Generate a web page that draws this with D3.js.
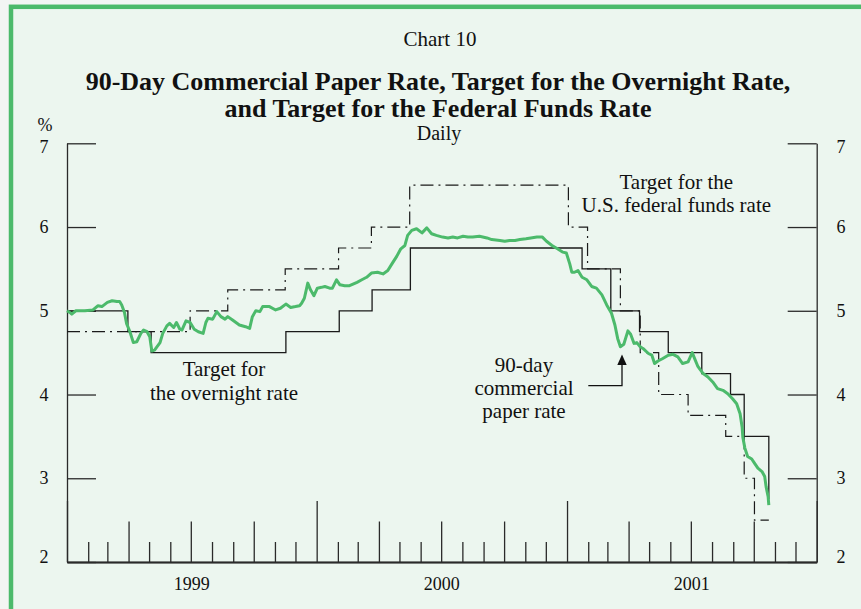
<!DOCTYPE html>
<html>
<head>
<meta charset="utf-8">
<script src="https://cdn.jsdelivr.net/npm/d3@7/dist/d3.min.js"></script>
<style>
  html, body { margin: 0; padding: 0; background: #f3f5f3; }
  svg { display: block; }
  text { font-family: "Liberation Serif", "Times New Roman", serif; fill: #111; }
</style>
</head>
<body>
<svg id="chart" width="861" height="609"></svg>
<script>
// ---------------- DATA ----------------
const yTicks = [2, 3, 4, 5, 6, 7];
const yearLabels = ["1999", "2000", "2001"];

// Target for the overnight rate (Bank of Canada) - change dates and levels
const overnightDates = ["1999-01-01","1999-03-31","1999-05-04","1999-11-17","2000-02-03","2000-03-22","2000-05-17",
  "2001-01-23","2001-03-06","2001-04-17","2001-05-29","2001-07-17","2001-08-28","2001-09-17","2001-10-23"];
const overnightValues = [5.00,4.75,4.50,4.75,5.00,5.25,5.75,5.50,5.00,4.75,4.50,4.25,4.00,3.50,2.75];

// Target for the U.S. federal funds rate - change dates and levels
const fedDates = ["1999-01-01","1999-06-30","1999-08-24","1999-11-16","2000-02-02","2000-03-21","2000-05-16",
  "2001-01-03","2001-01-31","2001-03-20","2001-04-18","2001-05-15","2001-06-27","2001-08-21","2001-09-17","2001-10-02","2001-10-23"];
const fedValues = [4.75,5.00,5.25,5.50,5.75,6.00,6.50,6.00,5.50,5.00,4.50,4.00,3.75,3.50,3.00,2.50,2.50];

// 90-day commercial paper rate
const cpDates = [
  "1999-01-01","1999-01-05","1999-01-08","1999-01-14","1999-01-27","1999-02-08","1999-02-15","1999-02-21",
  "1999-03-01","1999-03-08","1999-03-15","1999-03-19","1999-03-22","1999-03-26","1999-03-29","1999-04-03",
  "1999-04-08","1999-04-13","1999-04-19","1999-04-23","1999-04-28","1999-05-02","1999-05-05","1999-05-09",
  "1999-05-17","1999-05-21","1999-05-27","1999-05-31","1999-06-06","1999-06-10","1999-06-15","1999-06-18",
  "1999-06-24","1999-06-30","1999-07-06","1999-07-12","1999-07-19","1999-07-23","1999-07-26","1999-08-02",
  "1999-08-08","1999-08-14","1999-08-20","1999-08-24","1999-08-31","1999-09-10","1999-09-19","1999-09-25",
  "1999-09-29","1999-10-04","1999-10-10","1999-10-14","1999-10-24","1999-11-02","1999-11-09","1999-11-17",
  "1999-11-24","1999-12-01","1999-12-07","1999-12-10","1999-12-14","1999-12-19","1999-12-23","1999-12-28",
  "2000-01-02","2000-01-08","2000-01-13","2000-01-20","2000-01-24","2000-01-30","2000-02-04","2000-02-11",
  "2000-02-18","2000-02-29","2000-03-07","2000-03-14","2000-03-21","2000-03-30","2000-04-07","2000-04-14",
  "2000-04-20","2000-04-27","2000-05-03","2000-05-09","2000-05-13","2000-05-19","2000-05-26","2000-06-03",
  "2000-06-10","2000-06-17","2000-06-24","2000-07-03","2000-07-11","2000-07-18","2000-07-25","2000-08-02",
  "2000-08-09","2000-08-16","2000-08-26","2000-09-06","2000-09-13","2000-09-25","2000-10-02","2000-10-09",
  "2000-10-17","2000-10-24","2000-11-02","2000-11-09","2000-11-18","2000-11-26","2000-12-02","2000-12-10",
  "2000-12-18","2000-12-26","2000-12-31","2001-01-05","2001-01-08","2001-01-12","2001-01-17","2001-01-23",
  "2001-01-30","2001-02-06","2001-02-13","2001-02-21","2001-02-28","2001-03-07","2001-03-12","2001-03-16",
  "2001-03-20","2001-03-25","2001-03-31","2001-04-04","2001-04-09","2001-04-13","2001-04-18","2001-04-22",
  "2001-04-30","2001-05-05","2001-05-09","2001-05-14","2001-05-21","2001-05-29","2001-06-05","2001-06-12",
  "2001-06-19","2001-06-27","2001-07-03","2001-07-07","2001-07-11","2001-07-19","2001-07-26","2001-08-02",
  "2001-08-09","2001-08-17","2001-08-24","2001-08-31","2001-09-06","2001-09-11","2001-09-14","2001-09-15",
  "2001-09-18","2001-09-22","2001-09-28","2001-10-02","2001-10-07","2001-10-13","2001-10-17","2001-10-19",
  "2001-10-22","2001-10-23"];
const cpValues = [
  5.00,4.98,4.96,5.00,5.00,5.01,5.06,5.05,
  5.10,5.12,5.11,5.11,5.07,4.98,4.85,4.75,
  4.62,4.63,4.73,4.77,4.75,4.69,4.52,4.53,
  4.62,4.73,4.82,4.85,4.80,4.86,4.78,4.77,
  4.88,4.86,4.78,4.75,4.73,4.86,4.91,4.90,
  4.99,4.93,4.90,4.93,4.89,4.83,4.81,4.79,
  4.93,5.00,4.99,5.05,5.05,5.01,5.03,5.08,
  5.04,5.05,5.06,5.09,5.15,5.33,5.25,5.18,
  5.27,5.28,5.29,5.27,5.27,5.37,5.31,5.30,
  5.30,5.34,5.37,5.40,5.45,5.46,5.44,5.48,
  5.56,5.65,5.74,5.78,5.90,5.96,5.98,5.93,
  5.99,5.92,5.90,5.88,5.87,5.88,5.87,5.89,
  5.88,5.88,5.89,5.87,5.85,5.84,5.83,5.84,
  5.84,5.85,5.86,5.87,5.88,5.88,5.83,5.78,
  5.74,5.70,5.69,5.56,5.46,5.46,5.48,5.40,
  5.37,5.29,5.27,5.19,5.07,4.97,4.83,4.67,
  4.57,4.60,4.76,4.72,4.61,4.62,4.57,4.55,
  4.49,4.47,4.37,4.40,4.43,4.47,4.48,4.45,
  4.37,4.39,4.50,4.42,4.34,4.25,4.21,4.15,
  4.07,4.05,4.01,3.95,3.89,3.77,3.61,3.49,
  3.36,3.26,3.23,3.18,3.12,3.08,3.02,2.90,
  2.78,2.68];

// ---------------- DRAW ----------------
const parse = d3.timeParse("%Y-%m-%d");
const svg = d3.select("#chart");

// frame
svg.append("rect").attr("x", 11).attr("y", 6.8).attr("width", 1000).attr("height", 1000)
  .attr("fill", "#ecf6ef").attr("stroke", "#4cba6b").attr("stroke-width", 4.5);

const x = d3.scaleTime().domain([new Date(1999, 0, 1), new Date(2002, 0, 1)]).range([67, 816.7]);
const y = d3.scaleLinear().domain([2, 7]).range([562, 143.3]);

const axisColor = "#2a2a2a";

// Y axes (ticks pointing inward)
const gL = svg.append("g").attr("transform", "translate(67,0)")
  .call(d3.axisLeft(y).tickValues(yTicks).tickSizeInner(-29).tickSizeOuter(0).tickFormat(""));
const gR = svg.append("g").attr("transform", "translate(816.7,0)")
  .call(d3.axisRight(y).tickValues(yTicks).tickSizeInner(-29).tickSizeOuter(0).tickFormat(""));
[gL, gR].forEach(g => {
  g.selectAll("path, line").attr("stroke", axisColor).attr("stroke-width", 1.3);
});

// X axis: monthly ticks with three heights
const months = d3.timeMonth.range(new Date(1999, 0, 1), new Date(2002, 0, 2));
const yearTicks = months.filter(d => d.getMonth() === 0);
const quarterTicks = months.filter(d => d.getMonth() % 3 === 0 && d.getMonth() !== 0);
const monthTicks = months.filter(d => d.getMonth() % 3 !== 0);
const gX = svg.append("g").attr("transform", "translate(0,562)");
gX.append("g").call(d3.axisTop(x).tickValues(monthTicks).tickSizeInner(20).tickSizeOuter(0).tickFormat(""));
gX.append("g").call(d3.axisTop(x).tickValues(quarterTicks).tickSizeInner(40.5).tickSizeOuter(0).tickFormat(""));
gX.append("g").call(d3.axisTop(x).tickValues(yearTicks).tickSizeInner(61).tickSizeOuter(0).tickFormat(""));
gX.selectAll("path, line").attr("stroke", axisColor).attr("stroke-width", 1.3);

// Y labels
const yLabelShift = v => v === 7 ? 4 : (v === 2 ? -4.8 : 0);
yTicks.forEach(v => {
  [44, 841].forEach(cx => {
    svg.append("text").attr("x", cx).attr("y", y(v) + 6.1 + yLabelShift(v))
      .attr("text-anchor", "middle").attr("font-size", 18).text(v);
  });
});

// Year labels centered in each year
yearLabels.forEach(yr => {
  const mid = new Date((+new Date(+yr, 0, 1) + +new Date(+yr + 1, 0, 1)) / 2);
  svg.append("text").attr("x", x(mid)).attr("y", 590).attr("text-anchor", "middle")
    .attr("font-size", 18).text(yr);
});

// series
const stepLine = d3.line().curve(d3.curveStepAfter).x(d => x(d[0])).y(d => y(d[1]));
const overnight = overnightDates.map((d, i) => [parse(d), overnightValues[i]]);
const fed = fedDates.map((d, i) => [parse(d), fedValues[i]]);
const cp = cpDates.map((d, i) => [parse(d), cpValues[i]]);

svg.append("path").datum(fed).attr("d", stepLine).attr("fill", "none")
  .attr("stroke", "#1a1a1a").attr("stroke-width", 1.2).attr("stroke-dasharray", "13,5,2,5");
svg.append("path").datum(overnight).attr("d", stepLine).attr("fill", "none")
  .attr("stroke", "#1a1a1a").attr("stroke-width", 1.3);
svg.append("path").datum(cp)
  .attr("d", d3.line().x(d => x(d[0])).y(d => y(d[1])))
  .attr("fill", "none").attr("stroke", "#4cba6b").attr("stroke-width", 3).attr("stroke-linejoin", "round");

// titles
svg.append("text").attr("x", 440).attr("y", 46).attr("text-anchor", "middle").attr("font-size", 21).text("Chart 10");
svg.append("text").attr("x", 438).attr("y", 89.5).attr("text-anchor", "middle").attr("font-size", 26)
  .attr("font-weight", "bold").text("90-Day Commercial Paper Rate, Target for the Overnight Rate,");
svg.append("text").attr("x", 438).attr("y", 116.5).attr("text-anchor", "middle").attr("font-size", 26)
  .attr("font-weight", "bold").text("and Target for the Federal Funds Rate");
svg.append("text").attr("x", 439).attr("y", 140).attr("text-anchor", "middle").attr("font-size", 20).text("Daily");
svg.append("text").attr("x", 45).attr("y", 131).attr("text-anchor", "middle").attr("font-size", 18).text("%");

// annotations
function label(lines, cx, y0, dy) {
  lines.forEach((t, i) => svg.append("text").attr("x", cx).attr("y", y0 + i * dy)
    .attr("text-anchor", "middle").attr("font-size", 21).text(t));
}
label(["Target for the", "U.S. federal funds rate"], 676.3, 189.3, 23);
label(["Target for", "the overnight rate"], 224, 376, 24);
label(["90-day", "commercial", "paper rate"], 524, 372, 23);

// arrow to the commercial paper line
svg.append("path").attr("d", "M588.3,385.7H622V364").attr("fill", "none").attr("stroke", "#111").attr("stroke-width", 1.3);
svg.append("path").attr("d", "M622,354.5L617.3,365L626.7,365Z").attr("fill", "#111");
</script>
</body>
</html>
